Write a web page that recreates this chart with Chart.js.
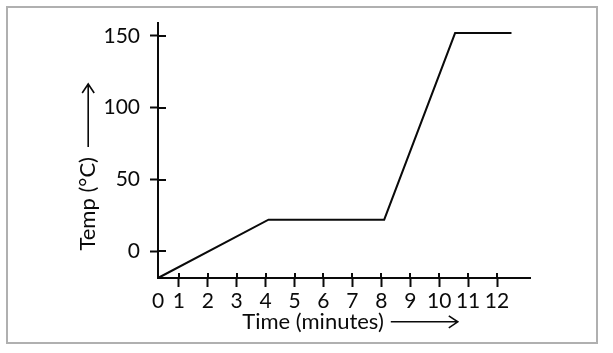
<!DOCTYPE html>
<html>
<head>
<meta charset="utf-8">
<script src="https://cdn.jsdelivr.net/npm/chart.js@4"></script>
<style>
  html, body { margin: 0; padding: 0; background: #fff; }
</style>
</head>
<body>
<canvas id="chart" width="613" height="353"></canvas>
<script>
// values
const timeMinutes = [0.28, 4.1, 8.1, 10.55, 12.5];
const tempC = [-18.6, 22, 22, 152, 152];
const xTickValues = [0.28, 1, 2, 3, 4, 5, 6, 7, 8, 9, 10, 11, 12];
const yTickValues = [0, 50, 100, 150];
const xTitle = 'Time (minutes)';
const yTitle = 'Temp (°C)';

const ink = '#0a0a0a';
const tickFont = { family: 'Lato', size: 21 };
const titleFont = { family: 'Lato', size: 22 };
const xPad = ' '.repeat(11);
const yPad = ' '.repeat(19);

// short marks on the inner side of the axes, the two arrows and the frame
const decorations = {
    id: 'decorations',
    afterDraw(chart) {
        const { ctx, chartArea, scales: { x, y } } = chart;
        ctx.save();
        ctx.strokeStyle = ink;
        ctx.lineWidth = 2;
        ctx.beginPath();
        x.ticks.forEach((t, i) => {
            if (i === 0) return;
            const px = Math.round(x.getPixelForValue(t.value));
            ctx.moveTo(px, chartArea.bottom);
            ctx.lineTo(px, chartArea.bottom - 5);
        });
        y.ticks.forEach(t => {
            const py = Math.round(y.getPixelForValue(t.value));
            ctx.moveTo(chartArea.left, py);
            ctx.lineTo(chartArea.left + 8, py);
        });
        ctx.stroke();

        ctx.font = '22px Lato';
        ctx.lineWidth = 1.6;

        // x arrow, after the title text
        const xFull = ctx.measureText(xTitle + xPad).width;
        const xText = ctx.measureText(xTitle).width;
        const ax0 = (x.left + x.right) / 2 - xFull / 2 + xText + 7;
        const ax1 = ax0 + 67;
        const ay = x.bottom - 13.2 - 18;
        ctx.beginPath();
        ctx.moveTo(ax0, ay);
        ctx.lineTo(ax1, ay);
        ctx.moveTo(ax1 - 9, ay - 6);
        ctx.lineTo(ax1, ay);
        ctx.lineTo(ax1 - 9, ay + 6);
        ctx.stroke();

        // y arrow, above the rotated title text
        const yFull = ctx.measureText(yTitle + yPad).width;
        const yText = ctx.measureText(yTitle).width;
        const by0 = (y.top + y.bottom) / 2 + yFull / 2 - yText - 10;
        const by1 = by0 - 63;
        const bx = y.left + 13.2 + 75;
        ctx.beginPath();
        ctx.moveTo(bx, by0);
        ctx.lineTo(bx, by1);
        ctx.moveTo(bx - 6, by1 + 9);
        ctx.lineTo(bx, by1);
        ctx.lineTo(bx + 6, by1 + 9);
        ctx.stroke();

        ctx.strokeStyle = '#b0b0b0';
        ctx.lineWidth = 2;
        ctx.strokeRect(7, 7, 590, 336);
        ctx.restore();
    }
};

new Chart(document.getElementById('chart'), {
    type: 'line',
    data: {
        datasets: [{
            data: timeMinutes.map((t, i) => ({ x: t, y: tempC[i] })),
            borderColor: ink,
            borderWidth: 2,
            pointRadius: 0,
            tension: 0,
            clip: false
        }]
    },
    options: {
        responsive: false,
        animation: false,
        layout: { padding: { top: 20, right: 83, bottom: 0, left: 0 } },
        plugins: {
            legend: { display: false },
            tooltip: { enabled: false }
        },
        scales: {
            x: {
                type: 'linear',
                min: 0.28,
                max: 13.14,
                afterBuildTicks: s => { s.ticks = xTickValues.map(v => ({ value: v })); },
                afterFit: s => { s.height = 75; },
                border: { color: ink, width: 2 },
                grid: {
                    drawOnChartArea: false,
                    tickLength: 9,
                    tickWidth: 2,
                    color: c => c.index === 0 ? 'rgba(0,0,0,0)' : ink
                },
                ticks: {
                    color: ink,
                    font: tickFont,
                    padding: 2,
                    maxRotation: 0,
                    autoSkip: false,
                    callback: (v, i) => i === 0 ? '0' : String(v)
                },
                title: {
                    display: true,
                    text: xTitle + xPad,
                    color: ink,
                    font: titleFont,
                    padding: { top: 0, bottom: 18 }
                }
            },
            y: {
                min: -18.6,
                max: 159.3,
                afterBuildTicks: s => { s.ticks = yTickValues.map(v => ({ value: v })); },
                afterFit: s => { s.width = 158; },
                border: { color: ink, width: 2 },
                grid: {
                    drawOnChartArea: false,
                    tickLength: 8,
                    tickWidth: 2,
                    color: ink
                },
                ticks: {
                    color: ink,
                    font: tickFont,
                    padding: 10
                },
                title: {
                    display: true,
                    text: yTitle + yPad,
                    color: ink,
                    font: titleFont,
                    padding: { top: 75, bottom: 0 }
                }
            }
        }
    },
    plugins: [decorations]
});
</script>
</body>
</html>
